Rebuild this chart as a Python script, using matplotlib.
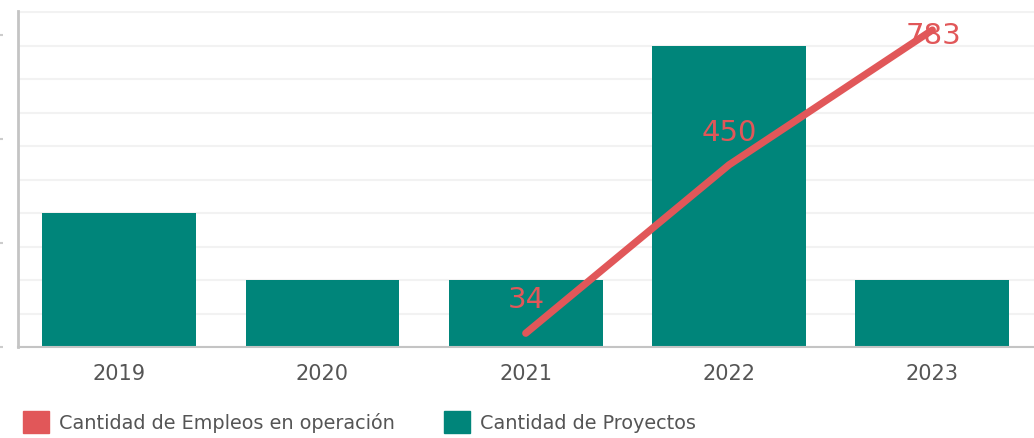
import matplotlib.pyplot as plt
from matplotlib.patches import Patch

years = ['2019', '2020', '2021', '2022', '2023']
proyectos = [4, 2, 2, 9, 2]
empleo_years = ['2021', '2022', '2023']
empleos = [34, 450, 783]

teal = '#00857a'
red = '#e15759'
gris = '#555555'

fig = plt.figure(figsize=(10.34, 4.38), dpi=100)
ax = fig.add_axes([17.5 / 1034, 1 - 347 / 438, 1 - 17.5 / 1034, 336 / 438])

x = list(range(len(years)))
ax.bar(x, proyectos, width=0.757, color=teal, zorder=2)
ax.set_xlim(-0.5, len(years) - 0.5)
ax.set_ylim(0, 10.03)
ax.set_yticks(range(0, 11))
ax.yaxis.grid(True, color='#f2f2f2', linewidth=1.5, zorder=0)
ax.set_axisbelow(True)
ax.tick_params(axis='y', length=0, labelleft=False)
ax.set_xticks(x)
ax.set_xticklabels(years, fontsize=15, color=gris)
ax.tick_params(axis='x', length=0, pad=12)
for s in ['top', 'right']:
    ax.spines[s].set_visible(False)
ax.spines['left'].set_color('#c4c4c4')
ax.spines['left'].set_linewidth(2)
ax.spines['bottom'].set_color('#c4c4c4')
ax.spines['bottom'].set_linewidth(1.5)

# eje cortado a la izquierda (solo se ven las marcas)
sec = ax.secondary_yaxis(-0.0143)
sec.set_yticks([0, 3.1, 6.2, 9.3])
sec.tick_params(length=3, width=1.5, color='#cccccc', labelleft=False)
sec.spines['left'].set_visible(False)

ax2 = ax.twinx()
ax2.set_ylim(0, 830)
ax2.axis('off')
xl = [years.index(y) for y in empleo_years]
ax2.plot(xl, empleos, color=red, linewidth=5.2, solid_capstyle='round', zorder=3)
offs = [33, 32, -6]
for xi, v, o in zip(xl, empleos, offs):
    ax2.annotate(str(v), (xi, v), xytext=(0.5, o * 0.72), textcoords='offset points',
                 ha='center', va='center', fontsize=21, color=red)

handles = [Patch(color=red), Patch(color=teal)]
labels = ['Cantidad de Empleos en operación', 'Cantidad de Proyectos']
fig.legend(handles, labels, loc='center left', bbox_to_anchor=(0.022, 0.036), ncol=2,
           frameon=False, fontsize=13.9, labelcolor=gris, handlelength=1.35,
           handleheight=1.4, handletextpad=0.55, columnspacing=2.5, borderpad=0,
           borderaxespad=0)

fig.savefig('out.png', dpi=100)
